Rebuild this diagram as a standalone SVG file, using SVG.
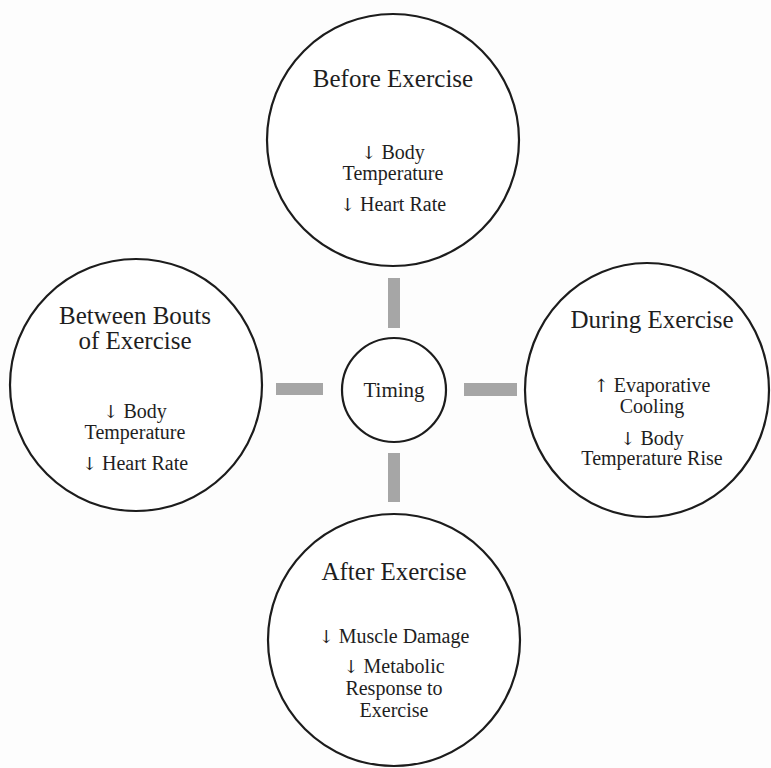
<svg xmlns="http://www.w3.org/2000/svg" width="771" height="768" viewBox="0 0 771 768">
<style>
.node{fill:#ffffff;stroke:#1c1c1c;stroke-width:2.2}
.bar{fill:#a6a6a6}
.t{font-family:"Liberation Serif","Times New Roman",serif;fill:#1e1e1e;text-anchor:middle}
.h{font-size:25px}
.b{font-size:20px}
.c{font-size:21px}
.ar{font-family:"DejaVu Serif","DejaVu Sans",serif;font-size:18px}
</style>
<rect width="771" height="768" fill="#fdfdfd"/>
<g id="connectors">
<rect class="bar" x="388" y="278" width="12" height="50"/>
<rect class="bar" x="276" y="383" width="47" height="12"/>
<rect class="bar" x="464" y="383" width="53" height="13"/>
<rect class="bar" x="388" y="453" width="12" height="49"/>
</g>
<g id="before">
<circle class="node" cx="393" cy="140" r="126"/>
<text class="t h" x="393" y="87">Before Exercise</text>
<text class="t b" x="393" y="159"><tspan class="ar">↓</tspan> Body</text>
<text class="t b" x="393" y="180">Temperature</text>
<text class="t b" x="393" y="211"><tspan class="ar">↓</tspan> Heart Rate</text>
</g>
<g id="between">
<circle class="node" cx="136" cy="385" r="126"/>
<text class="t h" x="135" y="324">Between Bouts</text>
<text class="t h" x="135" y="349">of Exercise</text>
<text class="t b" x="135" y="418"><tspan class="ar">↓</tspan> Body</text>
<text class="t b" x="135" y="439">Temperature</text>
<text class="t b" x="135" y="470"><tspan class="ar">↓</tspan> Heart Rate</text>
</g>
<g id="during">
<ellipse class="node" cx="647" cy="390" rx="122" ry="127"/>
<text class="t h" x="652" y="328">During Exercise</text>
<text class="t b" x="652" y="392"><tspan class="ar">↑</tspan> Evaporative</text>
<text class="t b" x="652" y="413">Cooling</text>
<text class="t b" x="652" y="445"><tspan class="ar">↓</tspan> Body</text>
<text class="t b" x="652" y="465">Temperature Rise</text>
</g>
<g id="after">
<circle class="node" cx="394" cy="640" r="126"/>
<text class="t h" x="394" y="580">After Exercise</text>
<text class="t b" x="394" y="643"><tspan class="ar">↓</tspan> Muscle Damage</text>
<text class="t b" x="394" y="673"><tspan class="ar">↓</tspan> Metabolic</text>
<text class="t b" x="394" y="695">Response to</text>
<text class="t b" x="394" y="717">Exercise</text>
</g>
<g id="timing">
<circle class="node" cx="394" cy="390" r="52"/>
<text class="t c" x="394" y="397">Timing</text>
</g>
</svg>
